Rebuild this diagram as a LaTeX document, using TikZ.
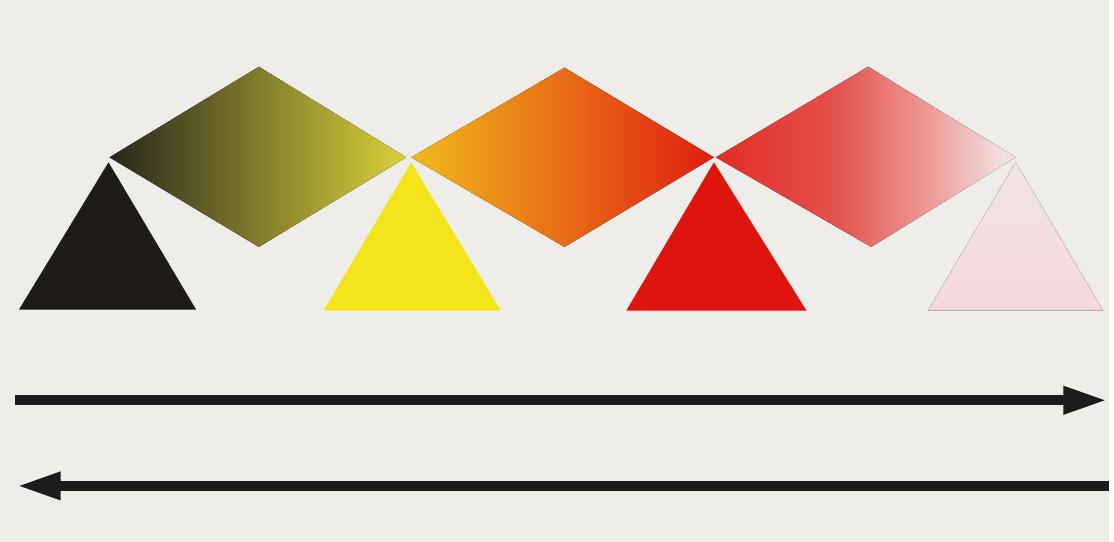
\documentclass[tikz,border=0pt]{standalone}
\usepackage{xcolor}
\usepackage{tikz}
\usetikzlibrary{arrows.meta, calc}
\definecolor{paper}{HTML}{EFEDE9}
\definecolor{ink}{HTML}{1C1A1A}
\definecolor{blackcolor}{HTML}{1E1B19}
\definecolor{olivecolor}{HTML}{7E7F3E}
\definecolor{limecolor}{HTML}{DAD23A}
\definecolor{yellowcolor}{HTML}{F4E41A}
\definecolor{ambercolor}{HTML}{F0BA1C}
\definecolor{orangecolor}{HTML}{E77A20}
\definecolor{redcolor}{HTML}{DF140F}
\definecolor{salmoncolor}{HTML}{E4524C}
\definecolor{rosecolor}{HTML}{ED9895}
\definecolor{pinkcolor}{HTML}{F5D8DD}
\definecolor{fadecolor}{HTML}{F2E2E1}
\pgfdeclarehorizontalshading{redfade}{100bp}{
  color(0bp)=(redcolor!90!white); color(25bp)=(redcolor!90!white);
  color(45bp)=(salmoncolor); color(60bp)=(rosecolor);
  color(73bp)=(fadecolor); color(100bp)=(fadecolor)}

\begin{document}
\begin{tikzpicture}[
    x=0.02cm, y=-0.02cm,
    rhombus/.style n args={3}{left color=#1, middle color=#2, right color=#3},
    wedge/.style={fill=#1},
    arrow/.style={-{Triangle[length=0.88cm, width=0.52cm]}, line width=5.5pt, color=ink}
]

% Paper
\fill[paper] (0,0) rectangle (1114,544);

% Diamonds
\fill[rhombus={blackcolor!90!olivecolor}{olivecolor}{limecolor}]
    (110,158) -- (260,67) -- (408,158) -- (260,248) -- cycle;
\fill[rhombus={ambercolor}{orangecolor}{redcolor!90!orangecolor}]
    (413,158) -- (567,68) -- (717,158) -- (567,248) -- cycle;
\fill[shading=redfade]
    (719,158) -- (872,67) -- (1020,158) -- (875,248) -- cycle;

% Triangles
\fill[wedge=blackcolor] (109,163) -- (197,311) -- (19,311) -- cycle;
\fill[wedge=yellowcolor] (413,163) -- (503,312) -- (325,312) -- cycle;
\fill[wedge=redcolor] (717,163) -- (810,312) -- (629,312) -- cycle;
\fill[top color=pinkcolor!40!paper, bottom color=pinkcolor]
    (1020,163) -- (1108,312) -- (932,312) -- cycle;

% Arrows
\coordinate (fwdstart) at (15,402);
\coordinate (fwdend) at (1112,402);
\coordinate (backstart) at (1114,488);
\coordinate (backend) at (17,488);
\draw[arrow] (fwdstart) -- (fwdend);
\draw[arrow] (backstart) -- (backend);

\end{tikzpicture}
\end{document}
